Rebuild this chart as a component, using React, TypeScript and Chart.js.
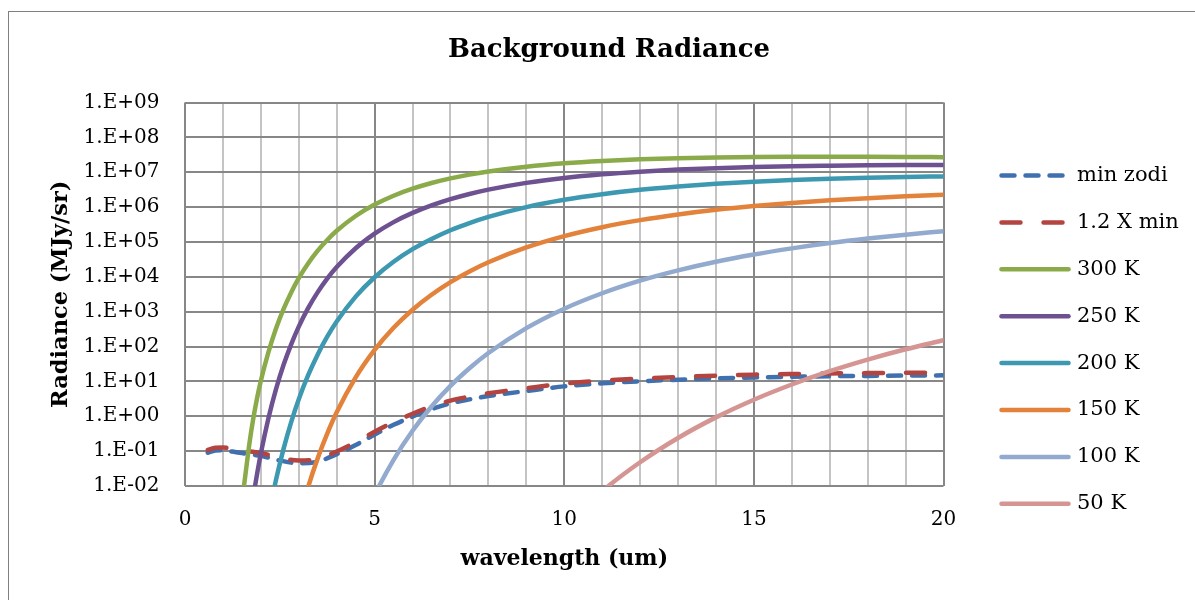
import React, { useEffect, useRef } from "react";
import { Chart, registerables } from "chart.js";

Chart.register(...registerables);

// ---------- data ----------
const zodiWl = [0.6, 0.8, 1.0, 1.25, 1.5, 2.0, 2.5, 3.0, 3.5, 4.0, 4.5, 5.0, 5.5, 6.0, 6.5, 7.0, 7.5, 8.0, 9, 10, 11, 12, 13, 14, 15, 16, 17, 18, 19, 20];
const minZodi = [0.09, 0.104, 0.106, 0.097, 0.088, 0.073, 0.054, 0.045, 0.05, 0.082, 0.15, 0.3, 0.57, 0.98, 1.6, 2.35, 3.05, 3.8, 5.3, 7.2, 8.8, 10.1, 11.2, 12.2, 13.0, 13.6, 14.1, 14.4, 14.7, 14.9];
const zodi12x = [0.108, 0.125, 0.127, 0.116, 0.106, 0.088, 0.065, 0.054, 0.06, 0.098, 0.18, 0.36, 0.68, 1.18, 1.92, 2.82, 3.66, 4.56, 6.36, 8.64, 10.6, 12.1, 13.4, 14.6, 15.6, 16.3, 16.9, 17.3, 17.6, 17.9];

const wl300 = [1.4, 1.5, 1.6, 1.7, 1.8, 1.9, 2.0, 2.2, 2.4, 2.6, 2.8, 3.0, 3.25, 3.5, 3.75, 4.0, 4.5, 5.0, 5.5, 6.0, 6.5, 7.0, 7.5, 8.0, 9, 10, 11, 12, 13, 14, 15, 16, 17, 18, 19, 20];
const rad300 = [5e-4, 3.5e-3, 2.4e-2, 0.17, 0.85, 3.3, 10.4, 69, 327, 1197, 3573, 9120, 2.45e4, 5.64e4, 1.14e5, 2.09e5, 5.56e5, 1.18e6, 2.12e6, 3.37e6, 4.91e6, 6.67e6, 8.55e6, 1.05e7, 1.44e7, 1.8e7, 2.1e7, 2.34e7, 2.52e7, 2.64e7, 2.72e7, 2.77e7, 2.78e7, 2.77e7, 2.74e7, 2.7e7];

const wl250 = [1.7, 1.8, 1.9, 2.0, 2.2, 2.4, 2.6, 2.8, 3.0, 3.25, 3.5, 3.75, 4.0, 4.5, 5.0, 5.5, 6.0, 6.5, 7.0, 7.5, 8.0, 9, 10, 11, 12, 13, 14, 15, 16, 17, 18, 19, 20];
const rad250 = [8.7e-4, 4.8e-3, 2.2e-2, 8.6e-2, 0.883, 6.03, 29.9, 116, 372, 1280, 3640, 8850, 1.9e4, 6.61e4, 1.73e5, 3.71e5, 6.82e5, 1.12e6, 1.69e6, 2.38e6, 3.17e6, 4.95e6, 6.85e6, 8.71e6, 1.04e7, 1.19e7, 1.31e7, 1.41e7, 1.49e7, 1.54e7, 1.58e7, 1.6e7, 1.61e7];

const wl200 = [2.2, 2.4, 2.6, 2.8, 3.0, 3.25, 3.5, 3.75, 4.0, 4.5, 5.0, 5.5, 6.0, 6.5, 7.0, 7.5, 8.0, 9, 10, 11, 12, 13, 14, 15, 16, 17, 18, 19, 20];
const rad200 = [1.28e-3, 1.5e-2, 0.118, 0.682, 3.08, 15.3, 59.6, 191, 521, 2700, 9730, 2.7e4, 6.21e4, 1.22e5, 2.17e5, 3.49e5, 5.24e5, 1.0e6, 1.62e6, 2.34e6, 3.12e6, 3.89e6, 4.65e6, 5.33e6, 5.94e6, 6.47e6, 6.93e6, 7.29e6, 7.6e6];

const wl150 = [3.0, 3.25, 3.5, 3.75, 4.0, 4.5, 5.0, 5.5, 6.0, 6.5, 7.0, 7.5, 8.0, 9, 10, 11, 12, 13, 14, 15, 16, 17, 18, 19, 20];
const rad150 = [1.04e-3, 9.6e-3, 6.3e-2, 0.318, 1.3, 13.1, 80.4, 346, 1140, 3060, 7050, 1.43e4, 2.62e4, 6.95e4, 1.47e5, 2.65e5, 4.22e5, 6.14e5, 8.34e5, 1.07e6, 1.31e6, 1.56e6, 1.8e6, 2.03e6, 2.25e6];

const wl100 = [4.5, 5.0, 5.5, 6.0, 6.5, 7.0, 7.5, 8.0, 9, 10, 11, 12, 13, 14, 15, 16, 17, 18, 19, 20];
const rad100 = [3.1e-4, 5.5e-3, 5.65e-2, 0.385, 1.91, 7.45, 23.8, 65.2, 337, 1220, 3380, 7760, 1.53e4, 2.71e4, 4.37e4, 6.55e4, 9.27e4, 1.25e5, 1.62e5, 2.03e5];

const wl50 = [10, 11, 12, 13, 14, 15, 16, 17, 18, 19, 20];
const rad50 = [6.9e-4, 7.1e-3, 4.8e-2, 0.239, 0.93, 2.98, 8.15, 19.6, 42.2, 83.4, 152];

const seriesLabels = ["min zodi", "1.2 X min", "300 K", "250 K", "200 K", "150 K", "100 K", "50 K"];
const chartTitle = "Background Radiance";
const xMajorTicks = [0, 5, 10, 15, 20];
const yTickValues = [1e-2, 1e-1, 1e0, 1e1, 1e2, 1e3, 1e4, 1e5, 1e6, 1e7, 1e8, 1e9];
const yTickLabels = ["1.E-02", "1.E-01", "1.E+00", "1.E+01", "1.E+02", "1.E+03", "1.E+04", "1.E+05", "1.E+06", "1.E+07", "1.E+08", "1.E+09"];

// ---------- styles ----------
const FONT = "'DejaVu Serif', serif";
const colors = ["#4170ae", "#b3443f", "#8bab4b", "#6e5191", "#3c99b1", "#e3823a", "#93aacf", "#d49593"];
const dashes: number[][] = [[13, 11], [19, 23], [], [], [], [], [], []];
const LINE_W = 4.5;

const pts = (xs: number[], ys: number[]) => xs.map((x, i) => ({ x, y: ys[i] }));

const LEGEND_X1 = 1001.5;
const LEGEND_X2 = 1068.5;
const LEGEND_TEXT_X = 1077;
const LEGEND_TOP = 175.5;
const LEGEND_GAP = 46.9;
const TITLE_X = 609;
const TITLE_Y = 50;

const sideLegend = {
  id: "sideLegend",
  afterDraw(chart: any) {
    const ctx = chart.ctx;
    ctx.save();
    ctx.fillStyle = "#000";
    ctx.font = `bold 26px ${FONT}`;
    ctx.textAlign = "center";
    ctx.textBaseline = "middle";
    ctx.fillText(chartTitle, TITLE_X, TITLE_Y);
    ctx.restore();
    chart.data.datasets.forEach((ds: any, i: number) => {
      const y = LEGEND_TOP + i * LEGEND_GAP;
      ctx.save();
      ctx.strokeStyle = ds.borderColor;
      ctx.lineWidth = ds.borderWidth;
      ctx.lineCap = "round";
      ctx.setLineDash(ds.borderDash || []);
      ctx.beginPath();
      ctx.moveTo(LEGEND_X1, y);
      ctx.lineTo(LEGEND_X2, y);
      ctx.stroke();
      ctx.setLineDash([]);
      ctx.fillStyle = "#000";
      ctx.font = `21px ${FONT}`;
      ctx.textBaseline = "middle";
      ctx.textAlign = "left";
      ctx.fillText(ds.label, LEGEND_TEXT_X, y);
      ctx.restore();
    });
  },
};

export default function App() {
  const ref = useRef<HTMLCanvasElement | null>(null);

  useEffect(() => {
    if (!ref.current) return;
    Chart.defaults.font.family = FONT;
    const dataSets = [
      pts(zodiWl, minZodi),
      pts(zodiWl, zodi12x),
      pts(wl300, rad300),
      pts(wl250, rad250),
      pts(wl200, rad200),
      pts(wl150, rad150),
      pts(wl100, rad100),
      pts(wl50, rad50),
    ];
    const chart = new Chart(ref.current, {
      type: "line",
      data: {
        datasets: dataSets.map((d, i) => ({
          label: seriesLabels[i],
          data: d,
          borderColor: colors[i],
          backgroundColor: colors[i],
          borderWidth: LINE_W,
          borderDash: dashes[i],
          borderCapStyle: "round",
          borderJoinStyle: "round",
          pointRadius: 0,
          fill: false,
          cubicInterpolationMode: "monotone",
          clip: 0,
          order: dataSets.length - i,
        })),
      },
      options: {
        responsive: false,
        animation: false,
        devicePixelRatio: 1,
        layout: { padding: { left: 0, right: 274.5, top: 102.5, bottom: 0 } },
        plugins: {
          legend: { display: false },
          tooltip: { enabled: false },
          title: { display: false },
        },
        scales: {
          x: {
            type: "linear",
            min: 0,
            max: 20,
            afterBuildTicks: (s: any) => {
              s.ticks = Array.from({ length: 21 }, (_, i) => ({ value: i }));
            },
            afterFit: (s: any) => {
              s.height = 114;
            },
            ticks: {
              autoSkip: false,
              maxRotation: 0,
              padding: 21.5,
              color: "#000",
              font: { family: FONT, size: 20 },
              callback: (v: any) => (xMajorTicks.includes(Number(v)) ? String(v) : ""),
            },
            grid: {
              drawTicks: false,
              lineWidth: 2,
              color: (c: any) => (c.tick && xMajorTicks.includes(c.tick.value) ? "#878787" : "#c4c4c4"),
            },
            border: { display: false },
            title: {
              display: true,
              text: "wavelength (um)",
              color: "#000",
              font: { family: FONT, size: 22, weight: "bold", lineHeight: 1.2 },
              padding: { top: 0, bottom: 27.5 },
            },
          },
          y: {
            type: "logarithmic",
            min: 1e-2,
            max: 1e9,
            afterBuildTicks: (s: any) => {
              s.ticks = yTickValues.map((v) => ({ value: v }));
            },
            afterFit: (s: any) => {
              s.width = 185;
            },
            ticks: {
              padding: 25.5,
              color: "#000",
              font: { family: FONT, size: 20 },
              callback: (_v: any, i: number) => yTickLabels[i],
            },
            grid: { drawTicks: false, lineWidth: 2, color: "#878787" },
            border: { display: false },
            title: {
              display: true,
              text: "Radiance (MJy/sr)",
              color: "#000",
              font: { family: FONT, size: 22.5, weight: "bold", lineHeight: 1.2 },
              padding: { top: 47.5, bottom: 0 },
            },
          },
        },
      },
      plugins: [sideLegend],
    } as any);
    return () => chart.destroy();
  }, []);

  return (
    <div style={{ position: "fixed", left: 0, top: 0, width: 1195, height: 600, overflow: "hidden", background: "#fff" }}>
      <div
        style={{
          position: "absolute",
          left: 8,
          top: 11,
          width: 1400,
          height: 800,
          borderLeft: "1.5px solid #808080",
          borderTop: "1.5px solid #808080",
        }}
      />
      <canvas ref={ref} width={1218} height={600} style={{ position: "absolute", left: 0, top: 0, width: 1218, height: 600 }} />
    </div>
  );
}
